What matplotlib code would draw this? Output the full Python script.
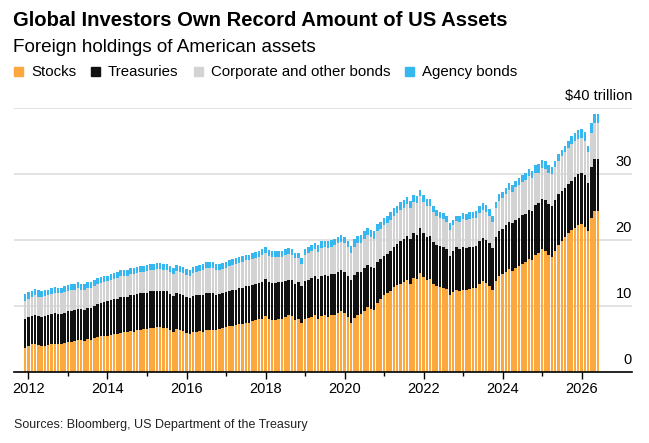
import matplotlib
matplotlib.use("Agg")
import matplotlib.pyplot as plt
import matplotlib.transforms as mtransforms
from matplotlib.patches import Rectangle

plt.rcParams['font.family'] = ['Liberation Sans', 'DejaVu Sans']

# monthly holdings, $ trillion, Dec 2011 .. Jun 2026
stocks = [
    3.7,
    4.0, 4.2, 4.3, 4.1, 3.9, 4.0, 4.1, 4.2, 4.3, 4.2, 4.2, 4.4,
    4.5, 4.6, 4.7, 4.8, 4.8, 4.7, 5.0, 4.9, 5.1, 5.3, 5.4, 5.5,
    5.5, 5.6, 5.7, 5.8, 5.9, 6.0, 6.0, 6.2, 6.1, 6.3, 6.4, 6.5,
    6.5, 6.7, 6.7, 6.8, 6.8, 6.7, 6.7, 6.3, 6.1, 6.5, 6.4, 6.2,
    5.9, 5.8, 6.1, 6.1, 6.2, 6.1, 6.4, 6.4, 6.4, 6.3, 6.5, 6.6,
    6.8, 7.0, 7.0, 7.1, 7.2, 7.3, 7.5, 7.5, 7.7, 7.9, 8.0, 8.1,
    8.5, 8.1, 7.9, 7.9, 8.1, 8.1, 8.4, 8.6, 8.5, 7.9, 8.0, 7.4,
    8.0, 8.2, 8.3, 8.6, 8.1, 8.5, 8.6, 8.4, 8.6, 8.7, 9.0, 9.2,
    8.9, 8.3, 7.5, 8.2, 8.6, 8.8, 9.3, 9.9, 9.6, 9.4, 10.5, 11.0,
    11.6, 11.9, 12.3, 12.9, 13.2, 13.4, 13.7, 14.0, 13.4, 14.3, 14.1, 15.0,
    14.4, 14.0, 14.1, 13.4, 13.0, 12.9, 12.8, 12.6, 11.6, 12.1, 12.5, 12.2,
    12.5, 12.4, 12.6, 12.7, 12.7, 13.3, 13.8, 13.5, 13.0, 12.5, 13.8, 14.5,
    14.8, 15.2, 15.6, 15.3, 15.8, 16.1, 16.4, 16.6, 17.1, 17.0, 17.8, 18.0,
    18.6, 18.4, 17.7, 17.5, 18.4, 19.3, 19.8, 20.4, 21.0, 21.5, 21.8, 22.2,
    22.4, 22.0, 21.3, 23.3, 24.4, 24.4,
]
treasuries = [
    4.3,
    4.3, 4.3, 4.4, 4.4, 4.5, 4.5, 4.5, 4.6, 4.6, 4.6, 4.6, 4.6,
    4.7, 4.7, 4.7, 4.8, 4.7, 4.7, 4.7, 4.8, 4.9, 5.0, 5.0, 5.1,
    5.2, 5.3, 5.3, 5.3, 5.4, 5.4, 5.4, 5.4, 5.5, 5.5, 5.5, 5.5,
    5.5, 5.5, 5.5, 5.5, 5.5, 5.5, 5.5, 5.5, 5.4, 5.4, 5.4, 5.4,
    5.4, 5.4, 5.4, 5.5, 5.5, 5.6, 5.6, 5.6, 5.5, 5.4, 5.3, 5.3,
    5.3, 5.3, 5.4, 5.4, 5.5, 5.5, 5.5, 5.5, 5.5, 5.5, 5.5, 5.6,
    5.6, 5.6, 5.6, 5.6, 5.5, 5.5, 5.4, 5.4, 5.4, 5.5, 5.6, 5.6,
    5.8, 5.8, 5.9, 5.9, 6.0, 6.1, 6.1, 6.2, 6.2, 6.2, 6.2, 6.2,
    6.3, 6.3, 6.4, 6.5, 6.5, 6.4, 6.4, 6.3, 6.3, 6.3, 6.2, 6.1,
    6.0, 6.0, 6.1, 6.1, 6.2, 6.4, 6.5, 6.6, 6.7, 6.7, 6.7, 6.8,
    6.6, 6.5, 6.5, 6.3, 6.3, 6.2, 6.2, 6.1, 6.0, 6.2, 6.4, 6.5,
    6.5, 6.4, 6.4, 6.3, 6.4, 6.5, 6.5, 6.5, 6.5, 6.3, 6.6, 6.8,
    6.9, 7.0, 7.2, 7.2, 7.3, 7.3, 7.4, 7.4, 7.4, 7.4, 7.5, 7.6,
    7.6, 7.6, 7.7, 7.6, 7.6, 7.6, 7.6, 7.5, 7.5, 7.5, 7.7, 7.8,
    7.8, 7.8, 7.3, 7.7, 7.9, 7.9,
]
corporate = [
    2.75,
    2.8, 2.8, 2.9, 2.9, 2.9, 3.0, 3.0, 3.0, 3.1, 3.1, 3.1, 3.1,
    3.1, 3.1, 3.1, 3.1, 3.0, 3.0, 3.0, 3.0, 3.0, 3.1, 3.1, 3.1,
    3.1, 3.1, 3.1, 3.2, 3.2, 3.2, 3.2, 3.2, 3.2, 3.2, 3.2, 3.2,
    3.25, 3.3, 3.3, 3.3, 3.3, 3.3, 3.3, 3.3, 3.3, 3.4, 3.4, 3.4,
    3.4, 3.4, 3.5, 3.5, 3.6, 3.7, 3.7, 3.8, 3.8, 3.7, 3.6, 3.7,
    3.7, 3.7, 3.8, 3.8, 3.8, 3.9, 3.9, 3.9, 3.9, 3.9, 4.0, 4.0,
    4.0, 3.9, 3.9, 3.9, 3.9, 3.9, 3.9, 3.9, 3.9, 3.8, 3.6, 3.4,
    4.0, 4.0, 4.1, 4.1, 4.1, 4.2, 4.2, 4.2, 4.2, 4.3, 4.3, 4.3,
    4.3, 4.3, 4.2, 4.3, 4.4, 4.4, 4.5, 4.5, 4.5, 4.5, 4.6, 4.6,
    4.7, 4.7, 4.7, 4.7, 4.7, 4.7, 4.7, 4.8, 4.7, 4.8, 4.8, 4.8,
    4.8, 4.7, 4.6, 4.5, 4.4, 4.3, 4.2, 4.1, 3.9, 3.9, 4.0, 4.1,
    4.2, 4.2, 4.2, 4.3, 4.3, 4.3, 4.3, 4.3, 4.2, 3.9, 4.4, 4.6,
    4.6, 4.7, 4.8, 4.8, 4.9, 5.0, 5.0, 5.1, 5.2, 5.0, 4.8, 4.6,
    4.7, 4.8, 4.8, 4.9, 5.0, 5.1, 5.3, 5.4, 5.5, 5.6, 5.5, 5.3,
    5.3, 5.2, 4.7, 5.2, 5.4, 5.4,
]
agency = [
    1.0,
    1.0, 1.0, 1.0, 1.0, 0.9, 0.9, 0.9, 0.9, 0.9, 0.9, 0.9, 0.9,
    0.9, 0.9, 0.9, 0.9, 0.9, 0.9, 0.9, 0.9, 0.9, 0.9, 0.9, 0.9,
    0.8, 0.8, 0.9, 0.9, 0.9, 0.9, 0.9, 0.9, 0.9, 0.9, 0.9, 0.9,
    0.9, 0.9, 0.9, 0.9, 0.9, 0.9, 0.9, 0.9, 0.9, 0.9, 0.9, 0.9,
    0.9, 0.9, 0.9, 0.9, 0.9, 0.9, 0.9, 0.9, 0.9, 0.9, 0.9, 0.9,
    0.9, 0.9, 0.9, 0.9, 0.9, 0.9, 0.9, 0.9, 0.9, 0.9, 0.9, 0.9,
    0.9, 0.9, 0.9, 0.9, 0.9, 0.9, 0.9, 0.9, 0.9, 0.9, 0.9, 0.8,
    0.9, 0.9, 0.9, 0.9, 1.0, 1.0, 1.0, 1.0, 1.0, 1.0, 1.0, 1.0,
    1.0, 1.0, 1.0, 1.1, 1.1, 1.1, 1.1, 1.1, 1.1, 1.1, 1.1, 1.0,
    1.0, 1.0, 1.1, 1.1, 1.1, 1.2, 1.2, 1.1, 1.1, 1.0, 1.0, 1.0,
    1.0, 1.0, 1.0, 0.9, 0.9, 0.9, 0.9, 0.9, 1.0, 0.9, 0.8, 0.8,
    0.9, 0.9, 1.0, 1.0, 1.0, 1.0, 1.0, 1.0, 1.0, 0.9, 1.0, 1.0,
    1.0, 1.0, 1.0, 1.0, 1.0, 1.0, 1.0, 1.0, 1.0, 1.1, 1.2, 1.3,
    1.2, 1.2, 1.1, 1.0, 1.0, 1.0, 1.0, 1.0, 1.0, 1.1, 1.2, 1.3,
    1.3, 1.3, 0.9, 1.5, 1.4, 1.4,
]

series_names = ['Stocks', 'Treasuries', 'Corporate and other bonds', 'Agency bonds']
colors = ['#fba93e', '#111111', '#d3d3d3', '#36b7ef']
y_ticks = [0, 10, 20, 30, 40]
y_labels = ['0', '10', '20', '30', '$40 trillion']
year_labels = [2012, 2014, 2016, 2018, 2020, 2022, 2024, 2026]

# first bar is Dec 2011, one bar per month
start = 2011 * 12 + 11
xs = [(start + i) / 12 for i in range(len(stocks))]

W, H = 649, 443
fig = plt.figure(figsize=(W / 100, H / 100), dpi=100)
ax = fig.add_axes([14 / W, 71 / H, 618 / W, 264 / H])

bottom = [0.0] * len(xs)
for vals, col in zip([stocks, treasuries, corporate, agency], colors):
    ax.bar(xs, vals, width=0.76 / 12, bottom=bottom, color=col, linewidth=0, zorder=2)
    bottom = [b + v for b, v in zip(bottom, vals)]

ax.set_xlim(2011.633, 2027.278)
ax.set_ylim(0, 40)

for v in y_ticks[1:]:
    ax.axhline(v, color='#dddddd', lw=1.2, zorder=0)

for s in ['top', 'right', 'left']:
    ax.spines[s].set_visible(False)
ax.spines['bottom'].set_color('black')
ax.spines['bottom'].set_linewidth(1.2)
ax.spines['bottom'].set_zorder(3)

ax.set_yticks([])
ax.set_xticks(year_labels)
ax.set_xticklabels([str(y) for y in year_labels], fontsize=10.5)
ax.set_xticks(range(2013, 2027, 2), minor=True)
ax.tick_params(axis='x', which='major', length=5, width=1, pad=2.5, color='black')
ax.tick_params(axis='x', which='minor', length=3, width=1, color='black')

trans = mtransforms.offset_copy(ax.get_yaxis_transform(), fig=fig, x=0, y=3.5, units='points')
for v, lab in zip(y_ticks, y_labels):
    ax.text(1.0, v, lab, transform=trans, ha='right', va='bottom', fontsize=10.5, color='black')

fig.text(13 / W, 1 - 26 / H, 'Global Investors Own Record Amount of US Assets',
         fontsize=14.6, fontweight='bold', va='baseline', ha='left')
fig.text(13 / W, 1 - 52 / H, 'Foreign holdings of American assets',
         fontsize=13.6, va='baseline', ha='left')

# legend row, laid out left to right
renderer = fig.canvas.get_renderer()
x = 14.0
base = 76.0
for name, col in zip(series_names, colors):
    fig.patches.append(Rectangle((x / W, 1 - base / H), 9 / W, 9 / H,
                                 transform=fig.transFigure, color=col, zorder=5))
    t = fig.text((x + 17) / W, 1 - base / H, name, fontsize=10.8, va='baseline', ha='left')
    bb = t.get_window_extent(renderer)
    x = bb.x1 + 15

fig.text(14 / W, 1 - 428 / H, 'Sources: Bloomberg, US Department of the Treasury',
         fontsize=9, va='baseline', ha='left', color='#222222')

fig.savefig('out.png', dpi=100)
